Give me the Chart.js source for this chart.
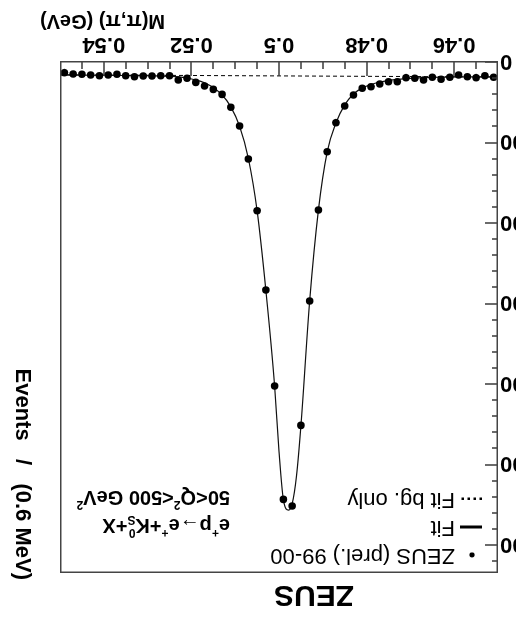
<!DOCTYPE html>
<html><head><meta charset="utf-8">
<script src="https://cdn.jsdelivr.net/npm/chart.js@4/dist/chart.umd.min.js"></script>
<style>
html,body{margin:0;padding:0;background:#fff;overflow:hidden;width:516px;height:618px;}
#wrap{position:absolute;left:0;top:0;width:516px;height:618px;transform:rotate(180deg);transform-origin:50% 50%;}
canvas{display:block;}
</style></head>
<body>
<div id="wrap"><canvas id="c" width="516" height="618"></canvas></div>
<script>
// ---- data ----
const massBins = [0.451,0.453,0.455,0.457,0.459,0.461,0.463,0.465,0.467,0.469,
                  0.471,0.473,0.475,0.477,0.479,0.481,0.483,0.485,0.487,0.489,
                  0.491,0.493,0.495,0.497,0.499,0.501,0.503,0.505,0.507,0.509,
                  0.511,0.513,0.515,0.517,0.519,0.521,0.523,0.525,0.527,0.529,
                  0.531,0.533,0.535,0.537,0.539,0.541,0.543,0.545,0.547,0.549];
const counts = [202,183,207,195,174,202,227,202,236,215,
                207,257,257,286,319,339,422,559,766,1127,
                1851,2981,4526,5528,5445,4037,2845,1860,1217,807,
                575,414,352,311,265,215,236,183,183,186,
                186,195,183,165,174,183,174,165,161,145];
const fitMass = [0.450,0.455,0.460,0.465,0.469,0.473,0.475,0.477,0.479,0.481,
                 0.483,0.485,0.487,0.489,0.491,0.493,0.495,0.496,0.497,0.4978,
                 0.499,0.500,0.501,0.503,0.505,0.507,0.509,0.511,0.513,0.515,
                 0.517,0.519,0.521,0.523,0.527,0.535,0.550];
const fitCounts = [198,198,199,203,212,228,242,262,292,335,
                   410,545,770,1130,1850,2980,4530,5150,5500,5580,
                   5450,4850,4040,2850,1860,1210,810,570,420,330,
                   272,236,212,198,188,180,172];
const bgMass = [0.450,0.550];
const bgCounts = [198,172];
const xTickValues = [0.46,0.48,0.5,0.52,0.54];
const xMinorTickValues = [0.455,0.465,0.47,0.475,0.485,0.49,0.495,0.505,0.51,0.515,0.525,0.53,0.535,0.545];
const xTickLabels = ['0.46','0.48','0.5','0.52','0.54'];
const yTickValues = [0,1000,2000,3000,4000,5000,6000];
const yTickLabels = ['0','1000','2000','3000','4000','5000','6000'];
const X_MIN = 0.45, X_MAX = 0.55, Y_MIN = 0, Y_MAX = 6360;

const FONT = '"Liberation Sans", Arial, Helvetica, sans-serif';
Chart.defaults.font.family = FONT;

function drawRich(ctx, parts, x, y, size, weight) {
  let cx = x;
  for (const p of parts) {
    const w8 = p.w || weight;
    if (p.stack) {
      ctx.font = `${w8} ${Math.round(size*0.62)}px ${FONT}`;
      const w = Math.max(ctx.measureText(p.stack[0]).width, ctx.measureText(p.stack[1]).width);
      ctx.fillText(p.stack[0], cx, y - size*0.36);
      ctx.fillText(p.stack[1], cx, y + size*0.30);
      cx += w;
    } else if (p.sup) {
      ctx.font = `${w8} ${Math.round(size*0.62)}px ${FONT}`;
      ctx.fillText(p.t, cx, y - size*0.36);
      cx += ctx.measureText(p.t).width;
    } else {
      ctx.font = `${w8} ${size}px ${FONT}`;
      ctx.fillText(p.t, cx, y);
      cx += ctx.measureText(p.t).width;
    }
  }
}

const framePlugin = {
  id: 'frame',
  afterDraw(chart) {
    const ctx = chart.ctx;
    const a = chart.chartArea;
    const xs = chart.scales.x, ys = chart.scales.y;
    ctx.save();
    ctx.lineWidth = 1.5;
    ctx.strokeStyle = '#3a3a3a';
    // mass-axis ticks (inward)
    const xt = xTickValues.map(v => [v, 14]).concat(xMinorTickValues.map(v => [v, 7]));
    for (const [v, len] of xt) {
      const px = Math.round(xs.getPixelForValue(v));
      ctx.beginPath();
      ctx.moveTo(px, a.bottom - 1);
      ctx.lineTo(px, a.bottom - 1 - len);
      ctx.stroke();
    }
    // count-axis ticks (inward)
    for (let v = Y_MIN; v <= Y_MAX; v += 200) {
      const py = Math.round(ys.getPixelForValue(v)) - 1;
      const major = yTickValues.includes(v);
      const len = major ? 13 : 6;
      ctx.beginPath();
      ctx.moveTo(a.left, py);
      ctx.lineTo(a.left + len, py);
      ctx.stroke();
    }
    ctx.strokeStyle = '#444';
    ctx.strokeRect(a.left + 0.75, a.top + 0.75, a.right - a.left - 1.5, a.bottom - a.top - 1.5);
    ctx.restore();
  }
};

const textPlugin = {
  id: 'texts',
  afterDraw(chart) {
    const ctx = chart.ctx;
    ctx.save();
    ctx.fillStyle = '#000';
    ctx.textBaseline = 'middle';
    // ZEUS label
    ctx.textAlign = 'center';
    ctx.font = `bold 30px ${FONT}`;
    ctx.fillText('ZEUS', 202, 24);
    // legend
    ctx.textAlign = 'left';
    ctx.font = `22px ${FONT}`;
    ctx.beginPath(); ctx.arc(44, 63, 2.6, 0, Math.PI * 2); ctx.fill();
    ctx.fillText('ZEUS (prel.) 99-00', 61, 63);
    ctx.fillRect(34, 89.5, 22, 3);
    ctx.fillText('Fit', 61, 91);
    for (let k = 0; k < 4; k++) { ctx.fillRect(34 + k * 6, 118, 2.5, 2.5); }
    ctx.fillText('Fit bg. only', 61, 119);
    // process annotation
    drawRich(ctx, [{t:'e'},{t:'+',sup:1},{t:'p'},{t:'\u2192',w:'normal'},{t:'e'},{t:'+',sup:1},{t:'+'},{t:'K'},{stack:['0','S']},{t:'+'},{t:'X'}], 286, 93, 20, 'bold');
    drawRich(ctx, [{t:'50<Q'},{t:'2',sup:1},{t:'<500 GeV'},{t:'2',sup:1}], 286, 121, 20, 'bold');
    // x title
    ctx.textAlign = 'right';
    ctx.font = `bold 20px ${FONT}`;
    ctx.fillText('M(\u03c0,\u03c0) (GeV)', 476, 597);
    // y title
    ctx.font = `bold 22px ${FONT}`;
    ctx.translate(494, 38);
    ctx.rotate(-Math.PI / 2);
    ctx.textAlign = 'right';
    ctx.fillText('Events   /   (0.6 MeV)', 0, 0);
    ctx.restore();
  }
};

new Chart(document.getElementById('c'), {
  type: 'scatter',
  data: {
    datasets: [
      {type: 'line', label: 'Fit bg. only', data: bgMass.map((m, i) => ({x: m, y: bgCounts[i]})),
       borderColor: '#000', borderWidth: 1, borderDash: [4, 3], pointRadius: 0, order: 3},
      {type: 'line', label: 'Fit', data: fitMass.map((m, i) => ({x: m, y: fitCounts[i]})),
       borderColor: '#111', borderWidth: 1.2, pointRadius: 0, cubicInterpolationMode: 'monotone', order: 2},
      {type: 'scatter', label: 'ZEUS (prel.) 99-00', data: massBins.map((m, i) => ({x: m, y: counts[i]})),
       backgroundColor: '#000', borderColor: '#000', pointRadius: 3.8, borderWidth: 0, order: 1}
    ]
  },
  options: {
    responsive: false,
    animation: false,
    events: [],
    layout: {padding: {left: 0, right: 60, top: 45, bottom: 0}},
    plugins: {legend: {display: false}, tooltip: {enabled: false}},
    scales: {
      x: {
        type: 'linear', position: 'bottom', min: X_MIN, max: X_MAX,
        grid: {display: false, drawTicks: false}, border: {display: false},
        afterBuildTicks: s => { s.ticks = xTickValues.map(v => ({value: v})); },
        afterFit: s => { s.height = 61; },
        ticks: {autoSkip: false, maxRotation: 0, minRotation: 0, padding: 4, color: '#000',
                font: {size: 22, weight: 'bold'}, callback: (v, i) => xTickLabels[i]}
      },
      y: {
        type: 'linear', position: 'left', min: Y_MIN, max: Y_MAX,
        grid: {display: false, drawTicks: false}, border: {display: false},
        afterBuildTicks: s => { s.ticks = yTickValues.map(v => ({value: v})); },
        afterFit: s => { s.width = 18; },
        ticks: {autoSkip: false, padding: 2, color: '#000',
                font: {size: 22, weight: 'bold'}, callback: (v, i) => yTickLabels[i]}
      }
    }
  },
  plugins: [framePlugin, textPlugin]
});
</script>
</body></html>
